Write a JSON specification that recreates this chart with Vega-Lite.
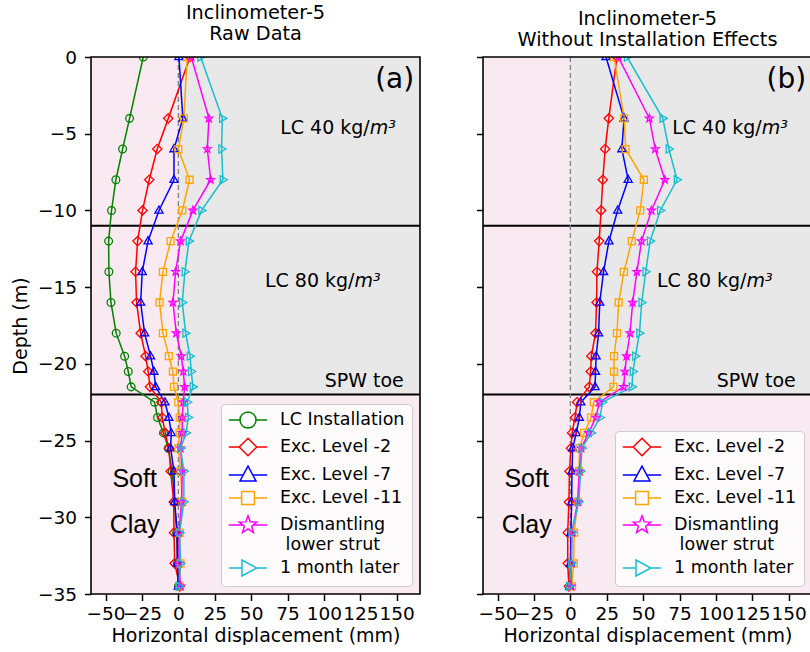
{
  "$schema": "https://vega.github.io/schema/vega-lite/v6.json",
  "padding": {"left": 11, "top": 3, "right": 0, "bottom": 0},
  "bounds": "flush",
  "spacing": 63,
  "config": {
    "font": "DejaVu Sans",
    "view": {"fill": "#f9e9f0", "stroke": null},
    "title": {"font": "DejaVu Sans", "fontSize": 19.3, "fontWeight": "normal", "color": "black", "lineHeight": 21, "offset": 0, "frame": "group"},
    "axis": {
      "labelFont": "DejaVu Sans", "labelFontSize": 18.5, "labelColor": "black",
      "titleFont": "DejaVu Sans", "titleFontSize": 19, "titleFontWeight": "normal", "titleColor": "black",
      "tickColor": "black", "tickSize": 6.5, "tickWidth": 1.5, "labelPadding": 6,
      "domain": false, "grid": false, "labelOverlap": false, "labelFlush": false, "labelBound": false
    },
    "axisX": {"labelPadding": 4},
    "axisY": {"labelPadding": 8},
    "legend": {
      "title": null, "orient": "bottom-right", "offset": 8,
      "labelFont": "DejaVu Sans", "labelFontSize": 17.5, "labelColor": "black", "labelLimit": 0,
      "symbolSize": 256, "symbolStrokeWidth": 1.5, "symbolOffset": 11, "labelOffset": 23,
      "rowPadding": 4, "padding": 7,
      "fillColor": "rgba(255,255,255,0.8)", "strokeColor": "#cccccc", "cornerRadius": 4
    }
  },
  "datasets": {
    "raw": [
      {"series": "LC Installation", "depth": 0, "disp": -24.1},
      {"series": "LC Installation", "depth": -4, "disp": -33.5},
      {"series": "LC Installation", "depth": -6, "disp": -38.3},
      {"series": "LC Installation", "depth": -8, "disp": -42.9},
      {"series": "LC Installation", "depth": -10, "disp": -45.9},
      {"series": "LC Installation", "depth": -12, "disp": -47.9},
      {"series": "LC Installation", "depth": -14, "disp": -47.7},
      {"series": "LC Installation", "depth": -16, "disp": -46.3},
      {"series": "LC Installation", "depth": -18, "disp": -42.7},
      {"series": "LC Installation", "depth": -19.5, "disp": -36.9},
      {"series": "LC Installation", "depth": -20.5, "disp": -34.4},
      {"series": "LC Installation", "depth": -21.5, "disp": -32.4},
      {"series": "LC Installation", "depth": -22.5, "disp": -16.3},
      {"series": "LC Installation", "depth": -23.5, "disp": -14.3},
      {"series": "LC Installation", "depth": -24.5, "disp": -10.2},
      {"series": "LC Installation", "depth": -25.5, "disp": -6.9},
      {"series": "LC Installation", "depth": -27, "disp": -4.2},
      {"series": "LC Installation", "depth": -29, "disp": -2.6},
      {"series": "LC Installation", "depth": -31, "disp": -1.2},
      {"series": "LC Installation", "depth": -33, "disp": -0.6},
      {"series": "LC Installation", "depth": -34.5, "disp": 0},
      {"series": "Exc. Level -2", "depth": 0, "disp": 8.0},
      {"series": "Exc. Level -2", "depth": -4, "disp": -6.9},
      {"series": "Exc. Level -2", "depth": -6, "disp": -14.5},
      {"series": "Exc. Level -2", "depth": -8, "disp": -20.0},
      {"series": "Exc. Level -2", "depth": -10, "disp": -24.6},
      {"series": "Exc. Level -2", "depth": -12, "disp": -28.0},
      {"series": "Exc. Level -2", "depth": -14, "disp": -29.4},
      {"series": "Exc. Level -2", "depth": -16, "disp": -28.7},
      {"series": "Exc. Level -2", "depth": -18, "disp": -25.9},
      {"series": "Exc. Level -2", "depth": -19.5, "disp": -22.5},
      {"series": "Exc. Level -2", "depth": -20.5, "disp": -20.7},
      {"series": "Exc. Level -2", "depth": -21.5, "disp": -19.5},
      {"series": "Exc. Level -2", "depth": -22.5, "disp": -11.7},
      {"series": "Exc. Level -2", "depth": -23.5, "disp": -11.1},
      {"series": "Exc. Level -2", "depth": -24.5, "disp": -9.0},
      {"series": "Exc. Level -2", "depth": -25.5, "disp": -6.5},
      {"series": "Exc. Level -2", "depth": -27, "disp": -5.3},
      {"series": "Exc. Level -2", "depth": -29, "disp": -3.2},
      {"series": "Exc. Level -2", "depth": -31, "disp": -3.0},
      {"series": "Exc. Level -2", "depth": -33, "disp": -2.5},
      {"series": "Exc. Level -2", "depth": -34.5, "disp": 1.0},
      {"series": "Exc. Level -7", "depth": 0, "disp": 0.4},
      {"series": "Exc. Level -7", "depth": -4, "disp": 3.1},
      {"series": "Exc. Level -7", "depth": -6, "disp": -3.0},
      {"series": "Exc. Level -7", "depth": -8, "disp": -3.0},
      {"series": "Exc. Level -7", "depth": -10, "disp": -13.3},
      {"series": "Exc. Level -7", "depth": -12, "disp": -20.8},
      {"series": "Exc. Level -7", "depth": -14, "disp": -24.8},
      {"series": "Exc. Level -7", "depth": -16, "disp": -25.9},
      {"series": "Exc. Level -7", "depth": -18, "disp": -23.2},
      {"series": "Exc. Level -7", "depth": -19.5, "disp": -19.1},
      {"series": "Exc. Level -7", "depth": -20.5, "disp": -16.8},
      {"series": "Exc. Level -7", "depth": -21.5, "disp": -15.6},
      {"series": "Exc. Level -7", "depth": -22.5, "disp": -9.2},
      {"series": "Exc. Level -7", "depth": -23.5, "disp": -6.5},
      {"series": "Exc. Level -7", "depth": -24.5, "disp": -4.9},
      {"series": "Exc. Level -7", "depth": -25.5, "disp": -5.3},
      {"series": "Exc. Level -7", "depth": -27, "disp": -3.0},
      {"series": "Exc. Level -7", "depth": -29, "disp": -2.5},
      {"series": "Exc. Level -7", "depth": -31, "disp": -0.7},
      {"series": "Exc. Level -7", "depth": -33, "disp": -0.7},
      {"series": "Exc. Level -7", "depth": -34.5, "disp": 0},
      {"series": "Exc. Level -11", "depth": 0, "disp": 6.1},
      {"series": "Exc. Level -11", "depth": -4, "disp": 3.8},
      {"series": "Exc. Level -11", "depth": -6, "disp": 0},
      {"series": "Exc. Level -11", "depth": -8, "disp": 7.7},
      {"series": "Exc. Level -11", "depth": -10, "disp": 2.7},
      {"series": "Exc. Level -11", "depth": -12, "disp": -5.3},
      {"series": "Exc. Level -11", "depth": -14, "disp": -10.6},
      {"series": "Exc. Level -11", "depth": -16, "disp": -12.9},
      {"series": "Exc. Level -11", "depth": -18, "disp": -10.6},
      {"series": "Exc. Level -11", "depth": -19.5, "disp": -6.5},
      {"series": "Exc. Level -11", "depth": -20.5, "disp": -3.7},
      {"series": "Exc. Level -11", "depth": -21.5, "disp": -3.0},
      {"series": "Exc. Level -11", "depth": -22.5, "disp": 0},
      {"series": "Exc. Level -11", "depth": -23.5, "disp": 0.9},
      {"series": "Exc. Level -11", "depth": -24.5, "disp": 0.9},
      {"series": "Exc. Level -11", "depth": -25.5, "disp": 0},
      {"series": "Exc. Level -11", "depth": -27, "disp": 1.5},
      {"series": "Exc. Level -11", "depth": -29, "disp": 2.7},
      {"series": "Exc. Level -11", "depth": -31, "disp": 0.9},
      {"series": "Exc. Level -11", "depth": -33, "disp": 1.5},
      {"series": "Exc. Level -11", "depth": -34.5, "disp": 0.9},
      {"series": "Dismantling lower strut", "depth": 0, "disp": 8.9},
      {"series": "Dismantling lower strut", "depth": -4, "disp": 21.0},
      {"series": "Dismantling lower strut", "depth": -6, "disp": 19.9},
      {"series": "Dismantling lower strut", "depth": -8, "disp": 22.2},
      {"series": "Dismantling lower strut", "depth": -10, "disp": 10.0},
      {"series": "Dismantling lower strut", "depth": -12, "disp": 1.5},
      {"series": "Dismantling lower strut", "depth": -14, "disp": -1.9},
      {"series": "Dismantling lower strut", "depth": -16, "disp": -3.7},
      {"series": "Dismantling lower strut", "depth": -18, "disp": -1.4},
      {"series": "Dismantling lower strut", "depth": -19.5, "disp": 2.0},
      {"series": "Dismantling lower strut", "depth": -20.5, "disp": 3.4},
      {"series": "Dismantling lower strut", "depth": -21.5, "disp": 4.3},
      {"series": "Dismantling lower strut", "depth": -22.5, "disp": 3.4},
      {"series": "Dismantling lower strut", "depth": -23.5, "disp": 2.7},
      {"series": "Dismantling lower strut", "depth": -24.5, "disp": 2.7},
      {"series": "Dismantling lower strut", "depth": -25.5, "disp": 1.5},
      {"series": "Dismantling lower strut", "depth": -27, "disp": 2.7},
      {"series": "Dismantling lower strut", "depth": -29, "disp": 2.2},
      {"series": "Dismantling lower strut", "depth": -31, "disp": 0.4},
      {"series": "Dismantling lower strut", "depth": -33, "disp": 0.4},
      {"series": "Dismantling lower strut", "depth": -34.5, "disp": 1.5},
      {"series": "1 month later", "depth": 0, "disp": 15.3},
      {"series": "1 month later", "depth": -4, "disp": 30.2},
      {"series": "1 month later", "depth": -6, "disp": 29.7},
      {"series": "1 month later", "depth": -8, "disp": 30.6},
      {"series": "1 month later", "depth": -10, "disp": 16.0},
      {"series": "1 month later", "depth": -12, "disp": 7.3},
      {"series": "1 month later", "depth": -14, "disp": 4.5},
      {"series": "1 month later", "depth": -16, "disp": 2.7},
      {"series": "1 month later", "depth": -18, "disp": 5.0},
      {"series": "1 month later", "depth": -19.5, "disp": 8.0},
      {"series": "1 month later", "depth": -20.5, "disp": 8.9},
      {"series": "1 month later", "depth": -21.5, "disp": 10.0},
      {"series": "1 month later", "depth": -22.5, "disp": 6.1},
      {"series": "1 month later", "depth": -23.5, "disp": 6.8},
      {"series": "1 month later", "depth": -24.5, "disp": 5.4},
      {"series": "1 month later", "depth": -25.5, "disp": 1.5},
      {"series": "1 month later", "depth": -27, "disp": 3.8},
      {"series": "1 month later", "depth": -29, "disp": 3.8},
      {"series": "1 month later", "depth": -31, "disp": 0.9},
      {"series": "1 month later", "depth": -33, "disp": 1.5},
      {"series": "1 month later", "depth": -34.5, "disp": 0.4}
    ],
    "adj": [
      {"series": "Exc. Level -2", "depth": 0, "disp": 32.0},
      {"series": "Exc. Level -2", "depth": -4, "disp": 26.4},
      {"series": "Exc. Level -2", "depth": -6, "disp": 23.9},
      {"series": "Exc. Level -2", "depth": -8, "disp": 22.3},
      {"series": "Exc. Level -2", "depth": -10, "disp": 21.1},
      {"series": "Exc. Level -2", "depth": -12, "disp": 19.8},
      {"series": "Exc. Level -2", "depth": -14, "disp": 18.3},
      {"series": "Exc. Level -2", "depth": -16, "disp": 18.0},
      {"series": "Exc. Level -2", "depth": -18, "disp": 17.3},
      {"series": "Exc. Level -2", "depth": -19.5, "disp": 14.4},
      {"series": "Exc. Level -2", "depth": -20.5, "disp": 14.0},
      {"series": "Exc. Level -2", "depth": -21.5, "disp": 13.0},
      {"series": "Exc. Level -2", "depth": -22.5, "disp": 4.6},
      {"series": "Exc. Level -2", "depth": -23.5, "disp": 3.2},
      {"series": "Exc. Level -2", "depth": -24.5, "disp": 1.2},
      {"series": "Exc. Level -2", "depth": -25.5, "disp": 0.4},
      {"series": "Exc. Level -2", "depth": -27, "disp": -0.6},
      {"series": "Exc. Level -2", "depth": -29, "disp": -1.0},
      {"series": "Exc. Level -2", "depth": -31, "disp": -1.8},
      {"series": "Exc. Level -2", "depth": -33, "disp": -1.8},
      {"series": "Exc. Level -2", "depth": -34.5, "disp": -1.0},
      {"series": "Exc. Level -7", "depth": 0, "disp": 24.5},
      {"series": "Exc. Level -7", "depth": -4, "disp": 36.9},
      {"series": "Exc. Level -7", "depth": -6, "disp": 35.4},
      {"series": "Exc. Level -7", "depth": -8, "disp": 39.7},
      {"series": "Exc. Level -7", "depth": -10, "disp": 32.5},
      {"series": "Exc. Level -7", "depth": -12, "disp": 26.5},
      {"series": "Exc. Level -7", "depth": -14, "disp": 22.8},
      {"series": "Exc. Level -7", "depth": -16, "disp": 20.2},
      {"series": "Exc. Level -7", "depth": -18, "disp": 19.4},
      {"series": "Exc. Level -7", "depth": -19.5, "disp": 17.7},
      {"series": "Exc. Level -7", "depth": -20.5, "disp": 17.3},
      {"series": "Exc. Level -7", "depth": -21.5, "disp": 17.0},
      {"series": "Exc. Level -7", "depth": -22.5, "disp": 7.2},
      {"series": "Exc. Level -7", "depth": -23.5, "disp": 6.2},
      {"series": "Exc. Level -7", "depth": -24.5, "disp": 4.1},
      {"series": "Exc. Level -7", "depth": -25.5, "disp": 1.6},
      {"series": "Exc. Level -7", "depth": -27, "disp": 1.1},
      {"series": "Exc. Level -7", "depth": -29, "disp": 0.9},
      {"series": "Exc. Level -7", "depth": -31, "disp": 0.4},
      {"series": "Exc. Level -7", "depth": -33, "disp": 0.1},
      {"series": "Exc. Level -7", "depth": -34.5, "disp": -0.4},
      {"series": "Exc. Level -11", "depth": 0, "disp": 30.0},
      {"series": "Exc. Level -11", "depth": -4, "disp": 37.0},
      {"series": "Exc. Level -11", "depth": -6, "disp": 38.0},
      {"series": "Exc. Level -11", "depth": -8, "disp": 50.5},
      {"series": "Exc. Level -11", "depth": -10, "disp": 48.0},
      {"series": "Exc. Level -11", "depth": -12, "disp": 42.2},
      {"series": "Exc. Level -11", "depth": -14, "disp": 36.8},
      {"series": "Exc. Level -11", "depth": -16, "disp": 33.2},
      {"series": "Exc. Level -11", "depth": -18, "disp": 32.0},
      {"series": "Exc. Level -11", "depth": -19.5, "disp": 30.0},
      {"series": "Exc. Level -11", "depth": -20.5, "disp": 30.0},
      {"series": "Exc. Level -11", "depth": -21.5, "disp": 29.6},
      {"series": "Exc. Level -11", "depth": -22.5, "disp": 16.1},
      {"series": "Exc. Level -11", "depth": -23.5, "disp": 14.2},
      {"series": "Exc. Level -11", "depth": -24.5, "disp": 9.5},
      {"series": "Exc. Level -11", "depth": -25.5, "disp": 6.2},
      {"series": "Exc. Level -11", "depth": -27, "disp": 6.0},
      {"series": "Exc. Level -11", "depth": -29, "disp": 5.1},
      {"series": "Exc. Level -11", "depth": -31, "disp": 2.6},
      {"series": "Exc. Level -11", "depth": -33, "disp": 2.3},
      {"series": "Exc. Level -11", "depth": -34.5, "disp": 1.1},
      {"series": "Dismantling lower strut", "depth": 0, "disp": 32.9},
      {"series": "Dismantling lower strut", "depth": -4, "disp": 54.3},
      {"series": "Dismantling lower strut", "depth": -6, "disp": 58.3},
      {"series": "Dismantling lower strut", "depth": -8, "disp": 64.9},
      {"series": "Dismantling lower strut", "depth": -10, "disp": 55.7},
      {"series": "Dismantling lower strut", "depth": -12, "disp": 48.9},
      {"series": "Dismantling lower strut", "depth": -14, "disp": 45.7},
      {"series": "Dismantling lower strut", "depth": -16, "disp": 42.8},
      {"series": "Dismantling lower strut", "depth": -18, "disp": 41.0},
      {"series": "Dismantling lower strut", "depth": -19.5, "disp": 38.6},
      {"series": "Dismantling lower strut", "depth": -20.5, "disp": 37.5},
      {"series": "Dismantling lower strut", "depth": -21.5, "disp": 36.6},
      {"series": "Dismantling lower strut", "depth": -22.5, "disp": 19.9},
      {"series": "Dismantling lower strut", "depth": -23.5, "disp": 17.6},
      {"series": "Dismantling lower strut", "depth": -24.5, "disp": 12.5},
      {"series": "Dismantling lower strut", "depth": -25.5, "disp": 7.5},
      {"series": "Dismantling lower strut", "depth": -27, "disp": 6.2},
      {"series": "Dismantling lower strut", "depth": -29, "disp": 5.1},
      {"series": "Dismantling lower strut", "depth": -31, "disp": 1.0},
      {"series": "Dismantling lower strut", "depth": -33, "disp": 0.6},
      {"series": "Dismantling lower strut", "depth": -34.5, "disp": 0.5},
      {"series": "1 month later", "depth": 0, "disp": 39.0},
      {"series": "1 month later", "depth": -4, "disp": 63.5},
      {"series": "1 month later", "depth": -6, "disp": 67.7},
      {"series": "1 month later", "depth": -8, "disp": 73.3},
      {"series": "1 month later", "depth": -10, "disp": 61.8},
      {"series": "1 month later", "depth": -12, "disp": 54.8},
      {"series": "1 month later", "depth": -14, "disp": 51.8},
      {"series": "1 month later", "depth": -16, "disp": 49.0},
      {"series": "1 month later", "depth": -18, "disp": 47.5},
      {"series": "1 month later", "depth": -19.5, "disp": 44.7},
      {"series": "1 month later", "depth": -20.5, "disp": 43.0},
      {"series": "1 month later", "depth": -21.5, "disp": 42.3},
      {"series": "1 month later", "depth": -22.5, "disp": 22.0},
      {"series": "1 month later", "depth": -23.5, "disp": 20.4},
      {"series": "1 month later", "depth": -24.5, "disp": 14.4},
      {"series": "1 month later", "depth": -25.5, "disp": 7.9},
      {"series": "1 month later", "depth": -27, "disp": 7.1},
      {"series": "1 month later", "depth": -29, "disp": 5.8},
      {"series": "1 month later", "depth": -31, "disp": 1.0},
      {"series": "1 month later", "depth": -33, "disp": 0.8},
      {"series": "1 month later", "depth": -34.5, "disp": -0.8}
    ]
  },
  "hconcat": [
    {
      "width": 329,
      "height": 537,
      "title": {"text": ["Inclinometer-5", "Raw Data"]},
      "layer": [
        {
          "data": {"values": [{"disp": 0, "disp2": 166, "depth": -22, "depth2": 0}]},
          "mark": {"type": "rect", "color": "#e8e8e8"},
          "encoding": {
            "x": {"field": "disp", "type": "quantitative", "scale": {"domain": [-60, 166], "nice": false, "zero": false},
                  "axis": {"values": [-50, -25, 0, 25, 50, 75, 100, 125, 150], "title": "Horizontal displacement (mm)", "titlePadding": 3}},
            "x2": {"field": "disp2"},
            "y": {"field": "depth", "type": "quantitative", "scale": {"domain": [-35, 0], "nice": false, "zero": false},
                  "axis": {"values": [0, -5, -10, -15, -20, -25, -30, -35], "title": "Depth (m)", "titlePadding": 7}},
            "y2": {"field": "depth2"}
          }
        },
        {
          "data": {"values": [{"depth": -11}, {"depth": -22}]},
          "mark": {"type": "rule", "color": "black", "strokeWidth": 2},
          "encoding": {"y": {"field": "depth", "type": "quantitative"}}
        },
        {
          "data": {"values": [{"disp": 0}]},
          "mark": {"type": "rule", "color": "#808080", "strokeWidth": 1.3, "strokeDash": [5, 3]},
          "encoding": {"x": {"field": "disp", "type": "quantitative"}}
        },
        {
          "data": {"name": "raw"},
          "mark": {"type": "line", "strokeWidth": 1.5, "clip": true},
          "encoding": {
            "x": {"field": "disp", "type": "quantitative"},
            "y": {"field": "depth", "type": "quantitative"},
            "order": {"field": "depth", "type": "quantitative"},
            "color": {"field": "series", "type": "nominal", "legend": null,
                      "scale": {"domain": ["LC Installation", "Exc. Level -2", "Exc. Level -7", "Exc. Level -11", "Dismantling lower strut", "1 month later"],
                                "range": ["#008000", "#ff0000", "#0000ff", "#ffa500", "#ff00ff", "#17becf"]}}
          }
        },
        {
          "data": {"name": "raw"},
          "mark": {"type": "point", "filled": false, "size": 60, "strokeWidth": 1.3, "opacity": 1, "clip": true},
          "encoding": {
            "x": {"field": "disp", "type": "quantitative"},
            "y": {"field": "depth", "type": "quantitative"},
            "color": {"field": "series", "type": "nominal", "legend": null,
                      "scale": {"domain": ["LC Installation", "Exc. Level -2", "Exc. Level -7", "Exc. Level -11", "Dismantling lower strut", "1 month later"],
                                "range": ["#008000", "#ff0000", "#0000ff", "#ffa500", "#ff00ff", "#17becf"]}},
            "shape": {"field": "series", "type": "nominal", "legend": null,
                      "scale": {"domain": ["LC Installation", "Exc. Level -2", "Exc. Level -7", "Exc. Level -11", "Dismantling lower strut", "1 month later"],
                                "range": ["M-1,0A1,1,0,1,1,1,0A1,1,0,1,1,-1,0Z", "M0,-1.2L1.2,0L0,1.2L-1.2,0Z", "M0,-1.15L1.05,0.7L-1.05,0.7Z", "M-0.9,-0.9H0.9V0.9H-0.9Z", "M0,-1.05L0.26,-0.36L1,-0.33L0.42,0.14L0.62,0.85L0,0.44L-0.62,0.85L-0.42,0.14L-1,-0.33L-0.26,-0.36Z", "M1.15,0L-0.7,1.05L-0.7,-1.05Z"]}}
          }
        },
        {
          "data": {"name": "raw"},
          "mark": {"type": "point", "filled": false, "opacity": 0},
          "encoding": {
            "x": {"field": "disp", "type": "quantitative"},
            "y": {"field": "depth", "type": "quantitative"},
            "color": {"field": "series", "type": "nominal",
                      "scale": {"domain": ["LC Installation", "Exc. Level -2", "Exc. Level -7", "Exc. Level -11", "Dismantling lower strut", "1 month later"],
                                "range": ["#008000", "#ff0000", "#0000ff", "#ffa500", "#ff00ff", "#17becf"]},
                      "legend": {"labelExpr": "datum.label == 'Dismantling lower strut' ? ['Dismantling', '\u200b lower strut'] : datum.label",
                                 "encode": {"labels": {"update": {"lineHeight": {"value": 19.5}}}}}},
            "shape": {"field": "series", "type": "nominal",
                      "scale": {"domain": ["LC Installation", "Exc. Level -2", "Exc. Level -7", "Exc. Level -11", "Dismantling lower strut", "1 month later"],
                                "range": ["M-2.4,0H-1M1,0H2.4M-1,0A1,1,0,1,1,1,0A1,1,0,1,1,-1,0Z", "M-2.4,0H-1.1M1.1,0H2.4M0,-1.1L1.1,0L0,1.1L-1.1,0Z", "M-2.4,0H-0.6M0.6,0H2.4M0,-1.1L1,0.75L-1,0.75Z", "M-2.4,0H-0.8M0.8,0H2.4M-0.8,-0.8H0.8V0.8H-0.8Z", "M-2.4,0H-0.64M0.64,0H2.4M0,-1.15L0.28,-0.39L1.09,-0.36L0.46,0.15L0.68,0.93L0,0.48L-0.68,0.93L-0.46,0.15L-1.09,-0.36L-0.28,-0.39Z", "M-2.4,0H-0.75M1.1,0H2.4M1.1,0L-0.75,1L-0.75,-1Z"]},
                      "legend": {"labelExpr": "datum.label == 'Dismantling lower strut' ? ['Dismantling', '\u200b lower strut'] : datum.label",
                                 "encode": {"labels": {"update": {"lineHeight": {"value": 19.5}}}}}}
          }
        },
        {
          "data": {"values": [{"disp": 131.5, "depth": -5, "label": "LC 40 kg/"}, {"disp": 121, "depth": -15, "label": "LC 80 kg/"}]},
          "mark": {"type": "text", "align": "right", "baseline": "alphabetic", "fontSize": 19, "font": "DejaVu Sans", "color": "black"},
          "encoding": {
            "x": {"field": "disp", "type": "quantitative"},
            "y": {"field": "depth", "type": "quantitative"},
            "text": {"field": "label"}
          }
        },
        {
          "data": {"values": [{"disp": 131.5, "depth": -5, "label": "m³"}, {"disp": 121, "depth": -15, "label": "m³"}]},
          "mark": {"type": "text", "align": "left", "baseline": "alphabetic", "fontSize": 19, "font": "DejaVu Sans", "fontStyle": "italic", "color": "black"},
          "encoding": {
            "x": {"field": "disp", "type": "quantitative"},
            "y": {"field": "depth", "type": "quantitative"},
            "text": {"field": "label"}
          }
        },
        {
          "data": {"values": [{"disp": 100.5, "depth": -21.5, "label": "SPW toe"}]},
          "mark": {"type": "text", "align": "left", "baseline": "alphabetic", "fontSize": 19, "font": "DejaVu Sans", "color": "black"},
          "encoding": {
            "x": {"field": "disp", "type": "quantitative"},
            "y": {"field": "depth", "type": "quantitative"},
            "text": {"field": "label"}
          }
        },
        {
          "data": {"values": [{"disp": -30, "depth": -28, "label": "Soft"}, {"disp": -30, "depth": -31, "label": "Clay"}]},
          "mark": {"type": "text", "align": "center", "baseline": "alphabetic", "fontSize": 25, "font": "Liberation Sans", "color": "black"},
          "encoding": {
            "x": {"field": "disp", "type": "quantitative"},
            "y": {"field": "depth", "type": "quantitative"},
            "text": {"field": "label"}
          }
        },
        {
          "data": {"values": [{"disp": 162, "depth": -2.0, "label": "(a)"}]},
          "mark": {"type": "text", "align": "right", "baseline": "alphabetic", "fontSize": 28, "font": "DejaVu Sans", "color": "black"},
          "encoding": {
            "x": {"field": "disp", "type": "quantitative"},
            "y": {"field": "depth", "type": "quantitative"},
            "text": {"field": "label"}
          }
        },
        {
          "data": {"values": [{"disp": -60, "disp2": 166, "depth": -35, "depth2": 0}]},
          "mark": {"type": "rect", "filled": false, "color": "black", "strokeWidth": 1.6},
          "encoding": {
            "x": {"field": "disp", "type": "quantitative"},
            "x2": {"field": "disp2"},
            "y": {"field": "depth", "type": "quantitative"},
            "y2": {"field": "depth2"}
          }
        }
      ],
      "resolve": {"scale": {"color": "independent", "shape": "independent"}}
    },
    {
      "width": 329,
      "height": 537,
      "title": {"text": ["Inclinometer-5", "Without Installation Effects"]},
      "layer": [
        {
          "data": {"values": [{"disp": 0, "disp2": 166, "depth": -22, "depth2": 0}]},
          "mark": {"type": "rect", "color": "#e8e8e8"},
          "encoding": {
            "x": {"field": "disp", "type": "quantitative", "scale": {"domain": [-60, 166], "nice": false, "zero": false},
                  "axis": {"values": [-50, -25, 0, 25, 50, 75, 100, 125, 150], "title": "Horizontal displacement (mm)", "titlePadding": 3}},
            "x2": {"field": "disp2"},
            "y": {"field": "depth", "type": "quantitative", "scale": {"domain": [-35, 0], "nice": false, "zero": false},
                  "axis": {"values": [0, -5, -10, -15, -20, -25, -30, -35], "title": null, "labels": false}},
            "y2": {"field": "depth2"}
          }
        },
        {
          "data": {"values": [{"depth": -11}, {"depth": -22}]},
          "mark": {"type": "rule", "color": "black", "strokeWidth": 2},
          "encoding": {"y": {"field": "depth", "type": "quantitative"}}
        },
        {
          "data": {"values": [{"disp": 0}]},
          "mark": {"type": "rule", "color": "#808080", "strokeWidth": 1.3, "strokeDash": [5, 3]},
          "encoding": {"x": {"field": "disp", "type": "quantitative"}}
        },
        {
          "data": {"name": "adj"},
          "mark": {"type": "line", "strokeWidth": 1.5, "clip": true},
          "encoding": {
            "x": {"field": "disp", "type": "quantitative"},
            "y": {"field": "depth", "type": "quantitative"},
            "order": {"field": "depth", "type": "quantitative"},
            "color": {"field": "series", "type": "nominal", "legend": null,
                      "scale": {"domain": ["Exc. Level -2", "Exc. Level -7", "Exc. Level -11", "Dismantling lower strut", "1 month later"],
                                "range": ["#ff0000", "#0000ff", "#ffa500", "#ff00ff", "#17becf"]}}
          }
        },
        {
          "data": {"name": "adj"},
          "mark": {"type": "point", "filled": false, "size": 60, "strokeWidth": 1.3, "opacity": 1, "clip": true},
          "encoding": {
            "x": {"field": "disp", "type": "quantitative"},
            "y": {"field": "depth", "type": "quantitative"},
            "color": {"field": "series", "type": "nominal", "legend": null,
                      "scale": {"domain": ["Exc. Level -2", "Exc. Level -7", "Exc. Level -11", "Dismantling lower strut", "1 month later"],
                                "range": ["#ff0000", "#0000ff", "#ffa500", "#ff00ff", "#17becf"]}},
            "shape": {"field": "series", "type": "nominal", "legend": null,
                      "scale": {"domain": ["Exc. Level -2", "Exc. Level -7", "Exc. Level -11", "Dismantling lower strut", "1 month later"],
                                "range": ["M0,-1.2L1.2,0L0,1.2L-1.2,0Z", "M0,-1.15L1.05,0.7L-1.05,0.7Z", "M-0.9,-0.9H0.9V0.9H-0.9Z", "M0,-1.05L0.26,-0.36L1,-0.33L0.42,0.14L0.62,0.85L0,0.44L-0.62,0.85L-0.42,0.14L-1,-0.33L-0.26,-0.36Z", "M1.15,0L-0.7,1.05L-0.7,-1.05Z"]}}
          }
        },
        {
          "data": {"name": "adj"},
          "mark": {"type": "point", "filled": false, "opacity": 0},
          "encoding": {
            "x": {"field": "disp", "type": "quantitative"},
            "y": {"field": "depth", "type": "quantitative"},
            "color": {"field": "series", "type": "nominal",
                      "scale": {"domain": ["Exc. Level -2", "Exc. Level -7", "Exc. Level -11", "Dismantling lower strut", "1 month later"],
                                "range": ["#ff0000", "#0000ff", "#ffa500", "#ff00ff", "#17becf"]},
                      "legend": {"labelExpr": "datum.label == 'Dismantling lower strut' ? ['Dismantling', '\u200b lower strut'] : datum.label",
                                 "encode": {"labels": {"update": {"lineHeight": {"value": 19.5}}}}}},
            "shape": {"field": "series", "type": "nominal",
                      "scale": {"domain": ["Exc. Level -2", "Exc. Level -7", "Exc. Level -11", "Dismantling lower strut", "1 month later"],
                                "range": ["M-2.4,0H-1.1M1.1,0H2.4M0,-1.1L1.1,0L0,1.1L-1.1,0Z", "M-2.4,0H-0.6M0.6,0H2.4M0,-1.1L1,0.75L-1,0.75Z", "M-2.4,0H-0.8M0.8,0H2.4M-0.8,-0.8H0.8V0.8H-0.8Z", "M-2.4,0H-0.64M0.64,0H2.4M0,-1.15L0.28,-0.39L1.09,-0.36L0.46,0.15L0.68,0.93L0,0.48L-0.68,0.93L-0.46,0.15L-1.09,-0.36L-0.28,-0.39Z", "M-2.4,0H-0.75M1.1,0H2.4M1.1,0L-0.75,1L-0.75,-1Z"]},
                      "legend": {"labelExpr": "datum.label == 'Dismantling lower strut' ? ['Dismantling', '\u200b lower strut'] : datum.label",
                                 "encode": {"labels": {"update": {"lineHeight": {"value": 19.5}}}}}}
          }
        },
        {
          "data": {"values": [{"disp": 131.5, "depth": -5, "label": "LC 40 kg/"}, {"disp": 121, "depth": -15, "label": "LC 80 kg/"}]},
          "mark": {"type": "text", "align": "right", "baseline": "alphabetic", "fontSize": 19, "font": "DejaVu Sans", "color": "black"},
          "encoding": {
            "x": {"field": "disp", "type": "quantitative"},
            "y": {"field": "depth", "type": "quantitative"},
            "text": {"field": "label"}
          }
        },
        {
          "data": {"values": [{"disp": 131.5, "depth": -5, "label": "m³"}, {"disp": 121, "depth": -15, "label": "m³"}]},
          "mark": {"type": "text", "align": "left", "baseline": "alphabetic", "fontSize": 19, "font": "DejaVu Sans", "fontStyle": "italic", "color": "black"},
          "encoding": {
            "x": {"field": "disp", "type": "quantitative"},
            "y": {"field": "depth", "type": "quantitative"},
            "text": {"field": "label"}
          }
        },
        {
          "data": {"values": [{"disp": 100.5, "depth": -21.5, "label": "SPW toe"}]},
          "mark": {"type": "text", "align": "left", "baseline": "alphabetic", "fontSize": 19, "font": "DejaVu Sans", "color": "black"},
          "encoding": {
            "x": {"field": "disp", "type": "quantitative"},
            "y": {"field": "depth", "type": "quantitative"},
            "text": {"field": "label"}
          }
        },
        {
          "data": {"values": [{"disp": -30, "depth": -28, "label": "Soft"}, {"disp": -30, "depth": -31, "label": "Clay"}]},
          "mark": {"type": "text", "align": "center", "baseline": "alphabetic", "fontSize": 25, "font": "Liberation Sans", "color": "black"},
          "encoding": {
            "x": {"field": "disp", "type": "quantitative"},
            "y": {"field": "depth", "type": "quantitative"},
            "text": {"field": "label"}
          }
        },
        {
          "data": {"values": [{"disp": 162, "depth": -2.0, "label": "(b)"}]},
          "mark": {"type": "text", "align": "right", "baseline": "alphabetic", "fontSize": 28, "font": "DejaVu Sans", "color": "black"},
          "encoding": {
            "x": {"field": "disp", "type": "quantitative"},
            "y": {"field": "depth", "type": "quantitative"},
            "text": {"field": "label"}
          }
        },
        {
          "data": {"values": [{"disp": -60, "disp2": 166, "depth": -35, "depth2": 0}]},
          "mark": {"type": "rect", "filled": false, "color": "black", "strokeWidth": 1.6},
          "encoding": {
            "x": {"field": "disp", "type": "quantitative"},
            "x2": {"field": "disp2"},
            "y": {"field": "depth", "type": "quantitative"},
            "y2": {"field": "depth2"}
          }
        }
      ],
      "resolve": {"scale": {"color": "independent", "shape": "independent"}}
    }
  ]
}
